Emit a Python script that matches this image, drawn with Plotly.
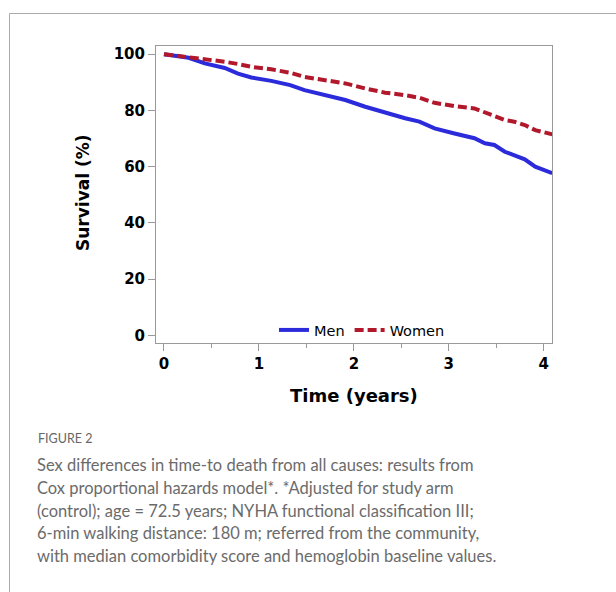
import plotly.graph_objects as go

# Data
time_years = [0, 0.26, 0.43, 0.64, 0.78, 0.92, 1.13, 1.33, 1.48, 1.69, 1.91, 2.12, 2.33,
              2.54, 2.69, 2.85, 3.06, 3.27, 3.38, 3.48, 3.59, 3.69, 3.80, 3.91, 4.09]
men = [100, 98.7, 96.7, 95.1, 93.1, 91.7, 90.5, 89.0, 87.2, 85.4, 83.7, 81.3, 79.2,
       77.2, 76.0, 73.6, 71.8, 70.1, 68.3, 67.7, 65.3, 64.1, 62.6, 60.0, 57.7]
women = [100, 99.0, 98.1, 97.3, 96.5, 95.5, 94.6, 93.4, 91.9, 90.7, 89.6, 87.8, 86.3,
         85.4, 84.5, 82.7, 81.5, 80.7, 79.3, 78.3, 76.6, 76.0, 74.8, 73.0, 71.5]
x_ticks = [0, 1, 2, 3, 4]
y_ticks = [0, 20, 40, 60, 80, 100]
caption_title = "FIGURE 2"
caption_lines = [
    "Sex differences in time-to death from all causes: results from",
    "Cox proportional hazards model*. *Adjusted for study arm",
    "(control); age = 72.5 years; NYHA functional classification III;",
    "6-min walking distance: 180 m; referred from the community,",
    "with median comorbidity score and hemoglobin baseline values.",
]

W, H = 616, 592
L, R, T, B = 156, 64, 46, 249
PW, PH = W - L - R, H - T - B


def px_x(px):
    return (px - L) / PW


def px_y(py):
    return (H - B - py) / PH


fig = go.Figure()
fig.add_trace(go.Scatter(x=time_years, y=men, mode="lines", name="Men",
                         line=dict(color="#2b2bdc", width=4)))
fig.add_trace(go.Scatter(x=time_years, y=women, mode="lines", name="Women",
                         line=dict(color="#b2182b", width=4, dash="9px,4px")))

axis_common = dict(showgrid=False, zeroline=False, showline=True, linecolor="#999999",
                   linewidth=1, mirror=True, ticks="outside", tickcolor="#999999",
                   tickfont=dict(family="DejaVu Sans", size=15, color="#000000", weight="bold"))

fig.update_xaxes(range=[-0.084, 4.087], tickvals=x_ticks, ticklen=7,
                 minor=dict(dtick=0.5, tick0=0, ticks="outside", ticklen=4, tickcolor="#999999"),
                 **axis_common)
fig.update_yaxes(range=[-2.7, 102.9], tickvals=y_ticks, ticklen=7, **axis_common)

annotations = [
    dict(text="Time (years)", x=px_x(354), y=px_y(395), xref="paper", yref="paper",
         xanchor="center", yanchor="middle", showarrow=False,
         font=dict(family="DejaVu Sans", size=18, color="#000000", weight="bold")),
    dict(text="Survival (%)", x=px_x(83), y=px_y(193), xref="paper", yref="paper",
         xanchor="center", yanchor="middle", showarrow=False, textangle=-90,
         font=dict(family="DejaVu Sans", size=17, color="#000000", weight="bold")),
    dict(text=caption_title, x=px_x(36), y=px_y(438), xref="paper", yref="paper",
         xanchor="left", yanchor="middle", showarrow=False,
         font=dict(family="Lato", size=12.5, color="#666666")),
]
for i, line in enumerate(caption_lines):
    annotations.append(dict(text=line, x=px_x(35), y=px_y(465 + i * 22.8), xref="paper",
                            yref="paper", xanchor="left", yanchor="middle", showarrow=False,
                            font=dict(family="Lato", size=16.5, color="#6b6b6b")))

shapes = [
    dict(type="line", xref="paper", yref="paper", x0=px_x(9.5), x1=px_x(616), y0=px_y(13.5),
         y1=px_y(13.5), line=dict(color="#aaaaaa", width=1)),
    dict(type="line", xref="paper", yref="paper", x0=px_x(9.5), x1=px_x(9.5), y0=px_y(13.5),
         y1=px_y(592), line=dict(color="#aaaaaa", width=1)),
]

fig.update_layout(
    width=W, height=H, margin=dict(l=L, r=R, t=T, b=B, autoexpand=False),
    paper_bgcolor="white", plot_bgcolor="white",
    showlegend=True,
    legend=dict(orientation="h", x=px_x(362), y=px_y(330), xanchor="center", yanchor="middle",
                bgcolor="rgba(0,0,0,0)", font=dict(family="DejaVu Sans", size=14.5, color="#000000"),
                itemwidth=30, tracegroupgap=0),
    annotations=annotations, shapes=shapes,
)

fig.write_html("out.html")
